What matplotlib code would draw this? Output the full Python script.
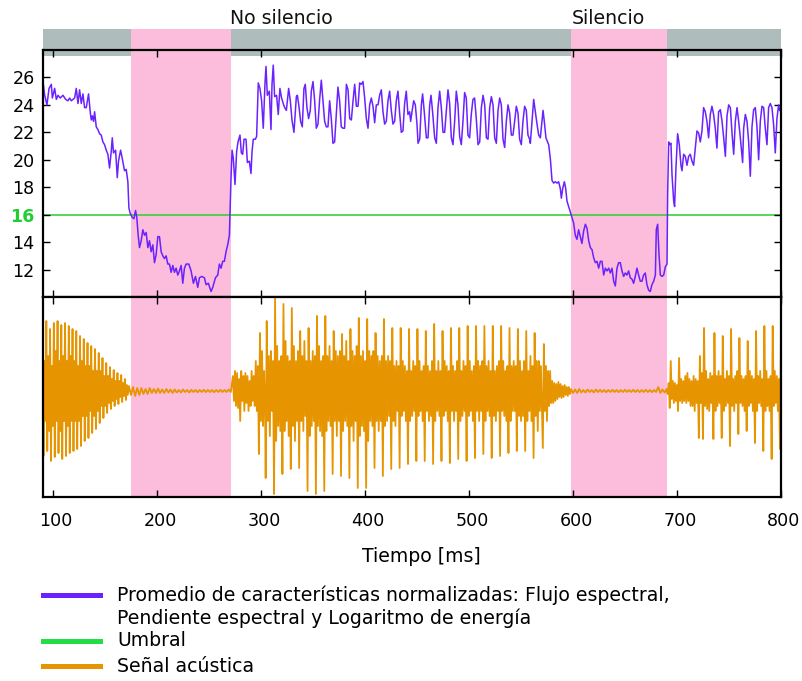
import numpy as np
import matplotlib
matplotlib.use("Agg")
import matplotlib.pyplot as plt
import matplotlib.transforms as mtransforms
from matplotlib.lines import Line2D

# ---------------- data ----------------
feat_t = [
    90.4, 92.0, 94.2, 96.2, 98.4, 99.4, 101.6, 103.2, 104.8, 107.0,
    109.6, 112.2, 114.4, 116.0, 117.6, 120.8, 122.4, 124.0, 125.6, 127.2,
    128.8, 130.4, 132.0, 134.2, 135.8, 136.8, 137.8, 139.0, 140.0, 141.6,
    143.2, 144.8, 146.4, 148.0, 149.6, 151.2, 152.8, 154.4, 156.0, 157.0,
    158.2, 160.2, 161.8, 163.0, 165.0, 166.6, 168.8, 170.4, 172.0, 173.0,
    174.2, 176.2, 177.8, 179.4, 180.6, 181.9, 183.2, 184.8, 186.4, 188.0,
    189.6, 191.2, 192.8, 194.4, 196.0, 197.6, 199.2, 200.8, 202.4, 204.0,
    205.6, 207.2, 208.8, 210.4, 212.0, 213.6, 215.2, 216.8, 218.4, 220.0,
    221.6, 223.2, 224.8, 226.4, 228.0, 230.6, 232.8, 235.0, 237.0, 239.2,
    240.8, 243.0, 245.6, 247.2, 249.4, 252.0, 253.6, 256.2, 258.4, 260.0,
    261.6, 263.2, 264.8, 266.4, 268.0, 269.6, 270.2, 271.2, 272.2, 273.4,
    275.0, 276.6, 277.9, 279.8, 281.1, 282.4, 283.7, 285.6, 286.9, 288.8,
    290.4, 291.4, 292.6, 294.6, 295.8, 297.4, 299.0, 300.6, 302.2, 303.8,
    304.8, 306.1, 308.0, 309.6, 310.6, 311.8, 313.1, 315.0, 316.6, 318.2,
    319.8, 321.8,
    322.8, 324.4, 326.6, 328.2, 329.8, 331.7, 334.0, 335.0, 336.5, 338.1,
    339.7, 341.3, 342.6, 344.2, 345.8, 347.4, 348.4, 350.0, 351.6, 353.2,
    354.8, 356.4, 358.0, 359.6, 361.2, 362.8, 364.4, 366.0, 367.6, 369.2,
    370.8, 372.4, 374.0, 375.6, 377.2, 378.8, 380.4, 382.1, 383.7, 385.3,
    386.9, 388.5, 390.1, 391.7, 393.3, 394.9, 396.5, 398.1, 399.7, 401.3,
    402.9, 404.5, 406.1, 407.7, 409.3, 410.9, 412.5, 414.1, 415.7, 417.3,
    418.9, 420.5, 422.1, 423.7, 425.3, 426.9, 428.5, 430.1, 431.7, 433.3,
    434.9, 436.5, 438.1, 439.7, 441.3, 442.9, 443.9, 445.2, 446.8, 448.4,
    450.0, 451.0, 452.6, 454.2, 455.4, 457.0, 459.0, 460.6, 462.2, 463.5,
    465.1, 467.0, 468.6, 470.2, 471.8, 473.4, 475.0, 476.6, 478.2, 479.8,
    481.4, 483.0, 484.6, 486.2, 487.8, 489.4, 491.0, 492.6, 494.2, 495.8,
    497.4, 499.0, 500.6, 502.2, 503.8, 505.4, 507.0, 508.7, 510.3, 511.9,
    513.5, 515.1, 516.7, 518.3, 519.9, 521.5, 523.1, 524.7, 526.3, 527.9,
    529.5, 531.1, 532.7, 534.3, 535.9, 537.5, 539.1, 540.7, 542.3, 543.9,
    545.5, 547.1, 548.7, 550.3, 551.9, 553.5, 555.1, 556.7, 558.3,
    559.0, 560.6, 562.2, 563.8, 565.4, 567.0, 568.6, 570.2, 571.2, 572.4,
    574.0, 575.6, 576.6, 578.2, 579.8, 581.4, 583.0, 584.6, 586.2, 587.8,
    588.8, 590.1, 591.7, 593.0, 594.2, 595.8, 597.4, 599.0, 600.6, 602.2,
    603.8, 605.4, 607.0, 608.6, 610.2, 611.9, 613.5, 615.1, 616.7, 618.3,
    619.9, 621.5, 623.1, 624.7, 626.3, 627.9, 629.5, 631.1, 632.7, 634.3,
    635.9, 637.5, 639.1, 640.7, 642.3, 643.9, 645.5, 647.1, 648.7, 650.3,
    651.9, 653.5, 655.1, 656.7, 658.3, 659.9, 661.5, 663.1, 664.7, 666.3,
    667.9, 669.5, 671.1, 672.7, 674.3, 675.9, 677.6, 679.2, 680.1, 681.4,
    682.7, 684.0, 685.6, 687.2, 688.8, 690.4, 691.0, 692.0, 693.0, 694.2,
    695.2, 696.8, 697.7, 699.0, 700.6, 702.2, 703.8, 704.8, 706.4, 708.0,
    709.6, 711.2, 712.8, 714.4, 716.0, 717.6, 719.2, 720.8, 722.4, 724.0,
    725.6, 727.2, 728.8, 730.4, 732.0, 733.6, 735.2, 736.8, 738.4, 740.0,
    741.7, 743.3, 744.9, 746.5, 748.1, 749.7, 751.3, 752.9, 754.5, 756.1,
    757.7, 759.3, 760.9, 763.1, 764.1, 765.7, 767.3, 768.9, 770.5, 772.1,
    773.7, 775.3, 776.9, 778.5, 780.1, 781.7, 783.3, 784.9, 786.5, 788.1,
    789.7, 791.3, 792.9, 794.5, 796.1, 797.7, 798.7,
]
feat_v = [
    25.7, 24.7, 24.0, 25.2, 25.5, 24.5, 25.2, 24.4, 24.7, 24.5,
    24.7, 24.4, 24.3, 24.5, 24.3, 24.5, 25.2, 24.1, 25.1, 24.1,
    24.8, 23.8, 23.8, 24.8, 23.5, 22.9, 23.2, 22.8, 23.5, 22.4,
    22.2, 21.9, 21.8, 21.3, 21.1, 20.7, 20.4, 19.4, 20.6, 21.6,
    20.5, 20.7, 18.7, 19.9, 20.7, 20.1, 19.2, 19.3, 18.4, 16.5,
    16.1, 15.8, 15.7, 16.3, 15.8, 14.5, 13.6, 14.1, 14.9, 14.5,
    14.7, 13.6, 14.1, 13.3, 13.8, 12.5, 13.1, 14.4, 14.4, 13.3,
    13.0, 12.8, 13.0, 12.4, 12.4, 11.8, 12.3, 11.8, 12.1, 11.6,
    11.9, 12.3, 11.0, 12.1, 12.4, 12.4, 11.9, 11.0, 11.5, 10.7,
    11.4, 11.5, 11.4, 10.9, 11.0, 10.4, 10.7, 11.4, 11.6, 12.4,
    12.1, 12.6, 12.6, 13.3, 13.8, 14.5, 16.0, 18.7, 20.7, 20.1,
    18.2, 20.6, 21.3, 21.8, 20.5, 20.4, 21.5, 21.5, 19.8, 19.9,
    19.0, 20.6, 21.5, 21.5, 21.7, 25.6, 25.2, 24.3, 22.3, 25.5,
    26.8, 24.7, 25.0, 22.2, 25.5, 26.9, 24.6, 24.7, 23.3, 25.2,
    24.5, 24.0,
    23.8, 23.6, 25.2, 24.3, 22.9, 22.0, 24.6, 24.7, 23.9, 22.8,
    22.4, 25.2, 25.5, 23.8, 23.0, 23.6, 25.0, 25.7, 24.3, 22.3,
    22.6, 24.4, 25.8, 24.3, 22.8, 22.4, 22.4, 24.3, 23.0, 21.2,
    21.3, 23.3, 25.3, 24.3, 22.4, 22.3, 22.3, 25.5, 25.1, 23.0,
    22.9, 24.3, 25.5, 23.9, 23.9, 25.6, 25.5, 25.7, 24.5, 23.0,
    22.3, 24.0, 24.5, 23.9, 22.7, 24.0, 24.0, 24.7, 25.1, 23.5,
    22.6, 22.8, 24.3, 25.0, 23.6, 22.6, 22.8, 24.3, 25.0, 23.4,
    22.0, 22.1, 24.1, 25.0, 23.3, 23.5, 22.8, 23.5, 24.3, 24.0,
    22.6, 21.2, 21.5, 24.0, 24.8, 23.5, 21.6, 21.6, 24.0, 24.7,
    23.4, 21.6, 21.2, 23.8, 25.0, 23.8, 22.0, 22.0, 23.6, 25.1,
    24.1, 21.6, 21.1, 22.8, 25.0, 24.0, 21.7, 21.1, 22.8, 24.9,
    24.5, 21.8, 21.6, 23.3, 24.4, 24.5, 23.0, 21.1, 21.3, 23.8,
    24.7, 24.0, 21.6, 21.5, 23.8, 24.6, 24.0, 21.6, 21.2, 23.6,
    24.5, 24.0, 21.5, 20.9, 22.8, 24.0, 23.4, 21.8, 21.8, 22.8,
    23.9, 23.4, 21.5, 21.1, 22.8, 23.9, 23.6, 21.8, 21.5,
    21.2, 22.8, 24.4, 23.5, 22.6, 21.8, 21.6, 22.8, 23.6, 22.8,
    21.6, 21.3, 21.1, 20.1, 18.5, 18.3, 18.4, 18.3, 18.4, 17.9,
    17.2, 17.9, 18.4, 17.9, 17.0, 16.6, 16.2, 15.8, 15.4, 14.5,
    14.2, 14.9, 14.4, 13.9, 14.8, 15.3, 15.0, 14.1, 13.6, 13.45,
    12.85, 12.5, 12.6, 12.1, 12.6, 12.6, 11.6, 12.1, 11.9, 12.1,
    11.75, 12.1, 11.15, 10.8, 12.1, 12.5, 12.5, 11.9, 11.5, 11.75,
    11.6, 11.9, 11.4, 11.3, 11.0, 11.5, 12.1, 11.6, 11.15, 11.15,
    11.6, 11.75, 10.9, 10.5, 10.4, 10.9, 11.15, 11.6, 14.9, 15.3,
    13.1, 11.6, 11.5, 11.6, 12.2, 12.4, 17.5, 21.3, 21.1, 21.2,
    18.9, 17.0, 16.6, 19.4, 21.9, 21.1, 19.6, 19.2, 20.4, 20.25,
    19.6, 20.25, 20.4, 19.9, 19.6, 20.85, 22.1, 21.95, 21.3, 22.1,
    23.8, 23.5, 22.8, 21.6, 23.3, 23.9, 23.3, 22.3, 20.85, 23.5,
    23.65, 22.8, 21.6, 20.25, 23.2, 24.0, 23.8, 21.95, 20.4, 22.8,
    23.8, 22.8, 21.6, 19.8, 22.3, 23.3, 22.8, 21.3, 18.8, 22.4,
    23.65, 23.8, 22.4, 20.0, 22.8, 23.9, 23.8, 22.3, 21.1, 23.8,
    24.1, 23.8, 22.55, 20.5, 23.0, 24.0, 23.6,
]

threshold = 16
silence_regions = [(175, 271), (598, 690)]
band_labels = ["No silencio", "Silencio"]
band_label_t = [320, 634]
xticks = [100, 200, 300, 400, 500, 600, 700, 800]
yticks = [12, 14, 16, 18, 20, 22, 24, 26]

# acoustic signal, per segment: start time (ms), sample step (ms), amplitudes
sig_a_start, sig_a_step = 90.0, 0.9
sig_a = [
    0.55, -0.65, 0.3, -0.3, 0.70, -0.60, 0.35, -0.4, 0.62, -0.70, 0.25, -0.35,
    0.68, -0.66, 0.4, -0.3, 0.70, -0.62, 0.3, -0.4, 0.66, -0.68, 0.35, -0.3,
    0.68, -0.65, 0.3, -0.35, 0.65, -0.62, 0.35, -0.3, 0.62, -0.60, 0.3, -0.3,
    0.60, -0.58, 0.25, -0.3, 0.55, -0.55, 0.3, -0.25, 0.52, -0.50, 0.25, -0.25,
    0.48, -0.47, 0.25, -0.2, 0.45, -0.42, 0.2, -0.25, 0.42, -0.38, 0.2, -0.2,
    0.38, -0.32, 0.2, -0.15, 0.33, -0.27, 0.15, -0.15, 0.28, -0.22, 0.15, -0.12,
    0.24, -0.18, 0.12, -0.1, 0.21, -0.15, 0.1, -0.08, 0.18, -0.13, 0.1, -0.06,
    0.16, -0.11, 0.08, -0.05, 0.12, -0.09, 0.06, -0.04,
]
sig_b_start, sig_b_step = 173.0, 2.0
sig_b = [
    0.05, -0.04, 0.04, -0.05, 0.03, -0.04, 0.03, -0.03, 0.02, -0.03,
    0.03, -0.02, 0.02, -0.02, 0.025, -0.02, 0.015, -0.02, 0.02, -0.015,
    0.015, -0.02, 0.015, -0.015, 0.01, -0.015, 0.015, -0.01, 0.01, -0.015,
    0.012, -0.01, 0.01, -0.012, 0.01, -0.01, 0.012, -0.01, 0.01, -0.01,
    0.01, -0.012, 0.01, -0.01, 0.012, -0.01, 0.01, -0.01, 0.015, -0.01,
]
sig_c_start, sig_c_step = 273.0, 1.0
sig_c = [
    0.15, -0.1, 0.2, -0.15, 0.18, -0.17, 0.12, -0.3, 0.2, -0.1,
    0.15, -0.2, 0.18, -0.12, 0.15, -0.2, 0.1, -0.15, 0.2, -0.1,
    0.15, -0.15, 0.3, -0.2, 0.25, -0.63, 0.58, -0.3, 0.4, -0.35,
    0.2, -0.25,
]
sig_d_start, sig_d_step = 304.5, 1.00625
sig_d = [
    -0.87, 0.70, -0.3, 0.35, -0.45, 0.4, -0.2, 0.3,
    -1.03, 0.93, -0.5, 0.45, -0.35, 0.3, -0.4, 0.35,
    -0.83, 0.87, -0.4, 0.5, -0.3, 0.35, -0.45, 0.3,
    -0.78, 0.83, -0.35, 0.45, -0.5, 0.3, -0.3, 0.4,
    -0.77, 0.60, -0.3, 0.35, -0.4, 0.5, -0.25, 0.3,
    -1.0, 0.63, -0.45, 0.3, -0.35, 0.4, -0.3, 0.35,
    -1.03, 0.75, -0.35, 0.45, -0.4, 0.3, -0.45, 0.35,
    -1.0, 0.75, -0.4, 0.35, -0.3, 0.45, -0.35, 0.3,
    -0.83, 0.60, -0.3, 0.4, -0.45, 0.35, -0.3, 0.4,
    -0.85, 0.57, -0.4, 0.35, -0.3, 0.5, -0.35, 0.3,
    -0.87, 0.62, -0.35, 0.4, -0.5, 0.35, -0.3, 0.45,
    -0.97, 0.73, -0.45, 0.35, -0.35, 0.4, -0.4, 0.3,
    -0.97, 0.72, -0.5, 0.4, -0.3, 0.35, -0.35, 0.4,
    -0.77, 0.58, -0.3, 0.35, -0.4, 0.3, -0.3, 0.35,
    -0.85, 0.72, -0.35, 0.3, -0.3, 0.35, -0.25, 0.3,
    -0.78, 0.63, -0.3, 0.25, -0.35, 0.3, -0.2, 0.25,
    -0.77, 0.63, -0.25, 0.3, -0.2, 0.25, -0.3, 0.2,
    -0.73, 0.62, -0.3, 0.2, -0.25, 0.3, -0.2, 0.25,
    -0.70, 0.62, -0.25, 0.3, -0.2, 0.2, -0.3, 0.25,
    -0.70, 0.60, -0.2, 0.25, -0.3, 0.2, -0.25, 0.3,
    -0.73, 0.67, -0.3, 0.2, -0.2, 0.3, -0.25, 0.2,
    -0.70, 0.60, -0.25, 0.3, -0.2, 0.25, -0.3, 0.2,
    -0.72, 0.63, -0.2, 0.25, -0.3, 0.2, -0.2, 0.3,
    -0.68, 0.63, -0.3, 0.2, -0.25, 0.3, -0.2, 0.25,
    -0.70, 0.65, -0.25, 0.3, -0.2, 0.2, -0.3, 0.25,
    -0.67, 0.65, -0.2, 0.3, -0.3, 0.25, -0.2, 0.3,
    -0.63, 0.65, -0.3, 0.25, -0.2, 0.3, -0.25, 0.2,
    -0.67, 0.65, -0.25, 0.2, -0.3, 0.25, -0.2, 0.3,
    -0.65, 0.65, -0.2, 0.3, -0.25, 0.2, -0.3, 0.25,
    -0.62, 0.63, -0.3, 0.25, -0.2, 0.3, -0.2, 0.25,
    -0.60, 0.62, -0.25, 0.3, -0.3, 0.2, -0.25, 0.3,
    -0.60, 0.60, -0.3, 0.2, -0.2, 0.35, -0.3, 0.25,
    -0.67, 0.58, -0.25, 0.3, -0.4, 0.3, -0.2, 0.25,
]
sig_e_start, sig_e_step = 571.0, 1.0
sig_e = [
    -0.57, 0.47, -0.2, 0.25, -0.3, 0.2, -0.15, 0.2, -0.12, 0.1,
    -0.12, 0.08, -0.1, 0.07, -0.08, 0.09, -0.06, 0.07, -0.07, 0.05,
    -0.06, 0.06, -0.04, 0.04, -0.05, 0.04, -0.03,
]
sig_f_start, sig_f_step = 598.0, 2.0
sig_f = [
    0.02, -0.02, 0.015, -0.02, 0.02, -0.015, 0.01, -0.015, 0.015, -0.01,
    0.01, -0.015, 0.015, -0.01, 0.012, -0.01, 0.01, -0.012, 0.01, -0.01,
    0.012, -0.01, 0.01, -0.012, 0.01, -0.01, 0.012, -0.01, 0.01, -0.01,
    0.012, -0.01, 0.01, -0.012, 0.01, -0.01, 0.012, -0.01, 0.01, -0.012,
    0.01, -0.01, 0.04, -0.02, 0.015, -0.015,
]
sig_g_start, sig_g_step = 690.0, 1.0
sig_g = [
    0.02, -0.03, 0.08, -0.17, 0.3, -0.08, 0.1, -0.12, 0.08, -0.1,
    0.06, -0.2, 0.33, -0.1, 0.12, -0.12, 0.1, -0.1, 0.15, -0.12,
    0.18, -0.1, 0.12, -0.15, 0.1, -0.15, 0.15, -0.2, 0.12, -0.12,
    0.1, -0.47, 0.35, -0.12, 0.18, -0.48, 0.63, -0.15, 0.2, -0.18,
    0.12, -0.2, 0.18, -0.12, 0.15, -0.48, 0.58, -0.2, 0.15, -0.15,
    0.2, -0.12, 0.15, -0.47, 0.55, -0.2, 0.12, -0.15, 0.2, -0.12,
    0.15, -0.55, 0.62, -0.15, 0.12, -0.2, 0.15, -0.12, 0.2, -0.43,
    0.53, -0.12, 0.15, -0.15, 0.12, -0.2, 0.15, -0.4, 0.5, -0.15,
    0.2, -0.12, 0.15, -0.2, 0.12, -0.52, 0.6, -0.2, 0.15, -0.12,
    0.2, -0.15, 0.12, -0.6, 0.65, -0.2, 0.2, -0.15, 0.12, -0.2,
    0.15, -0.68, 0.65, -0.15, 0.2, -0.12, 0.15, -0.2, 0.12, -0.58,
    0.63,
]

legend_labels = [
    "Promedio de características normalizadas: Flujo espectral,\nPendiente espectral y Logaritmo de energía",
    "Umbral",
    "Señal acústica",
]

# ---------------- style ----------------
C_PURPLE = "#6a22ff"
C_GREEN = "#3ccf3c"
C_ORANGE = "#e69500"
C_PINK = "#fcbcdb"
C_GRAY = "#aebcbb"
FS_TICK = 12.6
FS_TEXT = 13.6

plt.rcParams["font.family"] = ["DejaVu Sans"]
plt.rcParams["font.size"] = FS_TICK

W, H = 803, 681
fig = plt.figure(figsize=(W / 100, H / 100), dpi=100)
fig.patch.set_facecolor("white")

L, R = 43, 781
ax_band = fig.add_axes([L / W, 1 - 56 / H, (R - L) / W, 27 / H])
ax_top = fig.add_axes([L / W, 1 - 297 / H, (R - L) / W, 247 / H])
ax_bot = fig.add_axes([L / W, 1 - 497 / H, (R - L) / W, 200 / H])

XMIN, XMAX = 90.4, 800

# band
ax_band.set_xlim(XMIN, XMAX)
ax_band.set_ylim(0, 1)
ax_band.axvspan(XMIN, XMAX, color=C_GRAY, lw=0)
for a, b in silence_regions:
    ax_band.axvspan(a, b, color=C_PINK, lw=0)
ax_band.axis("off")

trans = mtransforms.blended_transform_factory(ax_band.transData, fig.transFigure)
for lab, t in zip(band_labels, band_label_t):
    fig.text(t, 1 - 18 / H, lab, transform=trans, ha="center", va="center",
             fontsize=FS_TEXT, color="#111111")

# upper
ax_top.patch.set_alpha(0)
for a, b in silence_regions:
    ax_top.axvspan(a, b, color=C_PINK, lw=0, zorder=0)
ax_top.axhline(threshold, color=C_GREEN, lw=1.2, zorder=1)
ax_top.plot(feat_t, feat_v, color=C_PURPLE, lw=1.1, zorder=2)
ax_top.set_xlim(XMIN, XMAX)
ax_top.set_ylim(10, 28)
ax_top.set_xticks(xticks)
ax_top.set_xticklabels([])
ax_top.set_yticks(yticks, labels=[str(v) for v in yticks])
for lbl in ax_top.get_yticklabels():
    if lbl.get_text() == str(threshold):
        lbl.set_color("#22cc33")
        lbl.set_fontweight("bold")
ax_top.tick_params(axis="x", direction="in", top=True, bottom=True, length=5, width=1.0)
ax_top.tick_params(axis="y", direction="in", left=True, right=True, length=5, width=1.0,
                   pad=6, labelsize=FS_TICK)

# lower
sig_t = []
sig_v = []
for start, step, vals in [(sig_a_start, sig_a_step, sig_a), (sig_b_start, sig_b_step, sig_b),
                          (sig_c_start, sig_c_step, sig_c), (sig_d_start, sig_d_step, sig_d),
                          (sig_e_start, sig_e_step, sig_e), (sig_f_start, sig_f_step, sig_f),
                          (sig_g_start, sig_g_step, sig_g)]:
    sig_t.extend(start + step * np.arange(len(vals)))
    sig_v.extend(vals)

for a, b in silence_regions:
    ax_bot.axvspan(a, b, color=C_PINK, lw=0, zorder=0)
ax_bot.plot(sig_t, sig_v, color=C_ORANGE, lw=1.3, zorder=2)
ax_bot.set_xlim(XMIN, XMAX)
ax_bot.set_ylim(-1.06, 0.94)
ax_bot.set_xticks(xticks, labels=[str(v) for v in xticks])
ax_bot.set_yticks([])
ax_bot.tick_params(axis="x", direction="in", top=True, bottom=True, length=5, width=1.0,
                   pad=11, labelsize=FS_TICK)
shift = mtransforms.ScaledTranslation(3 / 100, 0, fig.dpi_scale_trans)
for lbl in ax_bot.get_xticklabels():
    lbl.set_transform(lbl.get_transform() + shift)

for ax in (ax_top, ax_bot):
    for sp in ax.spines.values():
        sp.set_linewidth(1.6)
        sp.set_color("black")
        sp.set_zorder(5)

fig.text(421 / W, 1 - 556 / H, "Tiempo [ms]", ha="center", va="center", fontsize=FS_TEXT)

# legend (manual, below the plot)
leg_colors = [C_PURPLE, "#22dd44", C_ORANGE]
row_y = [595, 641, 666]
line_gap = 23.5
for lab, col, y in zip(legend_labels, leg_colors, row_y):
    fig.add_artist(Line2D([43 / W, 100 / W], [1 - y / H, 1 - y / H], color=col, lw=3.6,
                          transform=fig.transFigure))
    for i, part in enumerate(lab.split("\n")):
        fig.text(117 / W, 1 - (y + i * line_gap) / H, part, ha="left", va="center",
                 fontsize=FS_TEXT)

fig.savefig("out.png", dpi=100, facecolor="white")
